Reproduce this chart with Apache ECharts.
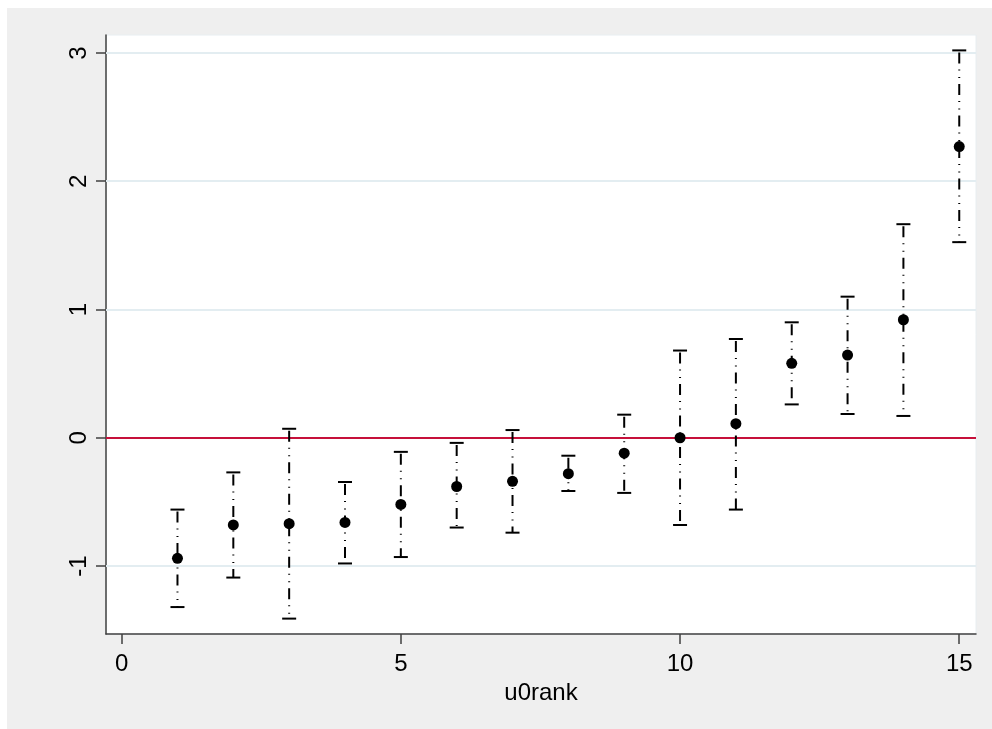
<!DOCTYPE html>
<html>
<head>
<meta charset="utf-8">
<script src="https://cdn.jsdelivr.net/npm/echarts@6/dist/echarts.min.js"></script>
<style>
html,body{margin:0;padding:0;background:#fff;}
#c{width:992px;height:729px;}
</style>
</head>
<body>
<div id="c"></div>
<script>
// ---- data ----
const ranks = [1, 2, 3, 4, 5, 6, 7, 8, 9, 10, 11, 12, 13, 14, 15];
const estimates = [-0.94, -0.68, -0.67, -0.66, -0.52, -0.38, -0.34, -0.28, -0.12, 0.00, 0.11, 0.58, 0.645, 0.92, 2.27];
const lowerCI = [-1.32, -1.09, -1.41, -0.98, -0.93, -0.70, -0.74, -0.415, -0.43, -0.68, -0.56, 0.26, 0.185, 0.17, 1.525];
const upperCI = [-0.56, -0.27, 0.07, -0.345, -0.11, -0.04, 0.06, -0.14, 0.18, 0.68, 0.77, 0.90, 1.10, 1.665, 3.02];
const xTicks = [0, 5, 10, 15];
const yTicks = [-1, 0, 1, 2, 3];
const gridLines = [-1, 1, 2, 3];
const refLine = 0;
const xTitle = 'u0rank';

const FONT = "'Liberation Sans', Arial, sans-serif";
const AXIS_COLOR = '#404040';

const chart = echarts.init(document.getElementById('c'), null, {renderer: 'canvas'});

const option = {
  backgroundColor: '#efefef',
  animation: false,
  textStyle: {fontFamily: FONT},
  graphic: [
    {type: 'rect', shape: {x: 0, y: 0, width: 7, height: 729}, style: {fill: '#fff'}, silent: true},
    {type: 'rect', shape: {x: 0, y: 0, width: 992, height: 8}, style: {fill: '#fff'}, silent: true}
  ],
  grid: {
    left: 106, right: 16, top: 35, bottom: 95,
    show: true, backgroundColor: '#ffffff', borderColor: '#e8eef1', borderWidth: 1
  },
  xAxis: {
    type: 'value', min: -0.28, max: 15.3,
    name: xTitle, nameLocation: 'middle', nameGap: 43,
    nameTextStyle: {fontSize: 24, color: '#000', fontFamily: FONT},
    axisLine: {show: true, onZero: false, lineStyle: {color: AXIS_COLOR, width: 1.5}},
    axisTick: {show: true, customValues: xTicks, length: 10, lineStyle: {color: AXIS_COLOR, width: 1.5}},
    axisLabel: {customValues: xTicks, fontSize: 24, color: '#000', margin: 18, fontFamily: FONT},
    splitLine: {show: false}
  },
  yAxis: {
    type: 'value', min: -1.53, max: 3.14,
    axisLine: {show: true, onZero: false, lineStyle: {color: AXIS_COLOR, width: 1.5}},
    axisTick: {show: true, customValues: yTicks, length: 10, lineStyle: {color: AXIS_COLOR, width: 1.5}},
    axisLabel: {customValues: yTicks, fontSize: 24, color: '#000', margin: 15, rotate: 90, fontFamily: FONT},
    splitLine: {show: false}
  },
  series: [
    {
      type: 'scatter', data: [], silent: true, z: 1,
      markLine: {
        silent: true, symbol: 'none', label: {show: false},
        lineStyle: {color: '#e3edf1', width: 2, type: 'solid'},
        data: gridLines.map(v => ({yAxis: v}))
      }
    },
    {
      type: 'scatter', data: [], silent: true, z: 2,
      markLine: {
        silent: true, symbol: 'none', label: {show: false},
        lineStyle: {color: '#c6103a', width: 2.2, type: 'solid', opacity: 1},
        data: [{yAxis: refLine}]
      }
    },
    {
      type: 'custom', z: 5, silent: true,
      data: ranks.map((r, i) => [r, lowerCI[i], upperCI[i]]),
      encode: {x: 0, y: [1, 2]},
      renderItem: function (params, api) {
        const x = api.value(0), lo = api.value(1), hi = api.value(2);
        const pHi = api.coord([x, hi]);
        const pLo = api.coord([x, lo]);
        const cw = 7;
        return {
          type: 'group',
          children: [
            {type: 'line', shape: {x1: pHi[0], y1: pHi[1], x2: pLo[0], y2: pLo[1]},
             style: {stroke: '#000', lineWidth: 2, lineDash: [11, 6, 1, 6.5, 1, 6], lineDashOffset: -2}},
            {type: 'line', shape: {x1: pHi[0] - cw, y1: pHi[1], x2: pHi[0] + cw, y2: pHi[1]},
             style: {stroke: '#000', lineWidth: 2}},
            {type: 'line', shape: {x1: pLo[0] - cw, y1: pLo[1], x2: pLo[0] + cw, y2: pLo[1]},
             style: {stroke: '#000', lineWidth: 2}}
          ]
        };
      }
    },
    {
      type: 'scatter', z: 6, silent: true,
      data: ranks.map((r, i) => [r, estimates[i]]),
      symbol: 'circle', symbolSize: 11,
      itemStyle: {color: '#000', opacity: 1}
    }
  ]
};
chart.setOption(option);
</script>
</body>
</html>
